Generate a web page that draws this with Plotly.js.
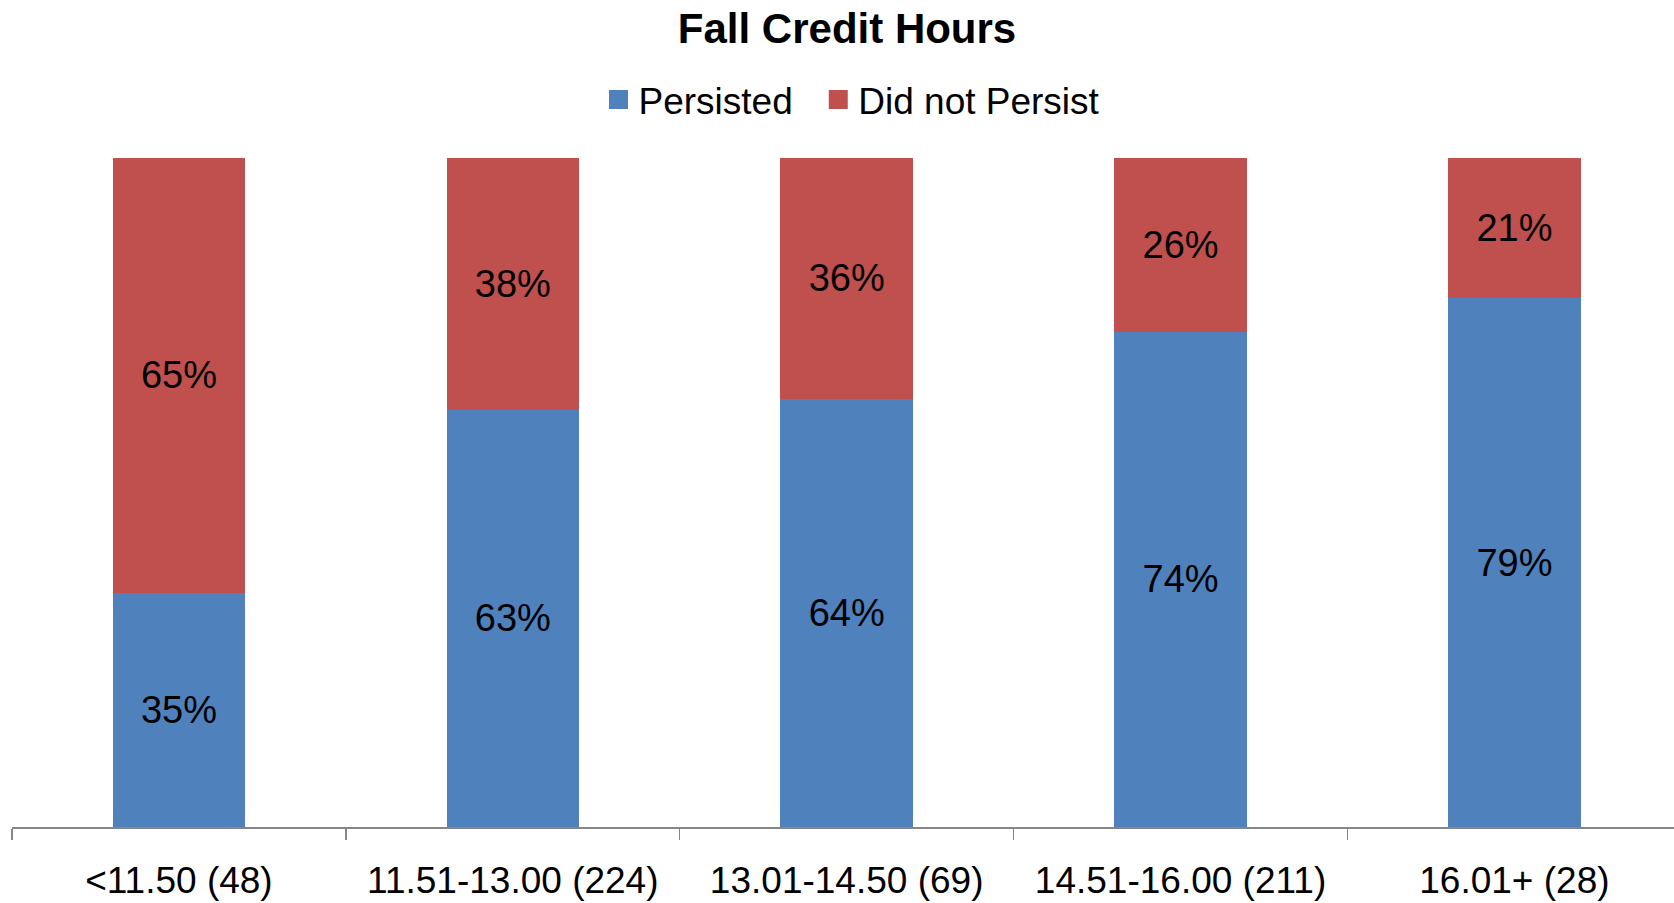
<!DOCTYPE html>
<html>
<head>
<meta charset="utf-8">
<script src="https://cdn.plot.ly/plotly-3.0.1.min.js"></script>
<style>html,body{margin:0;padding:0;background:#fff;}#chart{width:1674px;height:903px;}</style>
</head>
<body>
<div id="chart"></div>
<script>
const categories = ["<11.50 (48)", "11.51-13.00 (224)", "13.01-14.50 (69)", "14.51-16.00 (211)", "16.01+ (28)"];
const persisted = [35, 63, 64, 74, 79];
const didNotPersist = [65, 38, 36, 26, 21];
const seriesNames = ["Persisted", "Did not Persist"];
const colors = ["#4F81BD", "#C0504D"];

const FONT = "Liberation Sans, Arial, sans-serif";
const labelFont = {family: FONT, size: 38, color: "#000000"};

const barCommon = {
  type: "bar",
  x: categories,
  textposition: "inside",
  insidetextanchor: "middle",
  textangle: 0,
  constraintext: "none",
  textfont: labelFont,
  hoverinfo: "skip",
  showlegend: false,
  cliponaxis: false
};

const traces = [
  Object.assign({}, barCommon, {
    name: seriesNames[0], y: persisted,
    text: persisted.map(v => v + "%"), texttemplate: "%{text}",
    marker: {color: colors[0], line: {width: 0}}
  }),
  Object.assign({}, barCommon, {
    name: seriesNames[1], y: didNotPersist,
    text: didNotPersist.map(v => v + "%"), texttemplate: "%{text}",
    marker: {color: colors[1], line: {width: 0}}
  }),
  {type: "scatter", mode: "markers", x: [null], y: [null], name: seriesNames[0] + "\u00a0\u00a0",
   marker: {symbol: "square", size: 16, color: colors[0], line: {width: 3, color: colors[0]}}, hoverinfo: "skip"},
  {type: "scatter", mode: "markers", x: [null], y: [null], name: seriesNames[1],
   marker: {symbol: "square", size: 16, color: colors[1], line: {width: 3, color: colors[1]}}, hoverinfo: "skip"}
];

const layout = {
  width: 1674, height: 903,
  margin: {l: 12, r: 0, t: 158, b: 76, pad: 0},
  paper_bgcolor: "#ffffff", plot_bgcolor: "#ffffff",
  font: {family: FONT, size: 37, color: "#000000"},
  barmode: "stack",
  barnorm: "percent",
  bargap: 0.603,
  title: {
    text: "<b>Fall Credit Hours</b>",
    font: {family: FONT, size: 42, color: "#000000"},
    xref: "container", x: 0.506, xanchor: "center",
    yref: "container", y: 0.969, yanchor: "middle"
  },
  showlegend: true,
  legend: {
    orientation: "h", x: 0.5054, xanchor: "center", y: 1.0867, yanchor: "middle",
    font: {family: FONT, size: 37, color: "#000000"},
    traceorder: "normal", bgcolor: "rgba(0,0,0,0)", itemsizing: "trace"
  },
  xaxis: {
    type: "category",
    range: [-0.5, 4.478],
    showgrid: false, zeroline: false,
    showline: true, linecolor: "#868686", linewidth: 1.5,
    ticks: "outside", tickson: "boundaries", ticklen: 11, tickcolor: "#868686", tickwidth: 1.5,
    tickfont: {family: FONT, size: 37, color: "#000000"},
    ticklabelstandoff: 20,
    fixedrange: true
  },
  yaxis: {
    range: [0, 100], visible: false, showgrid: false, zeroline: false, fixedrange: true
  }
};

Plotly.newPlot("chart", traces, layout, {displayModeBar: false, staticPlot: true});
</script>
</body>
</html>
